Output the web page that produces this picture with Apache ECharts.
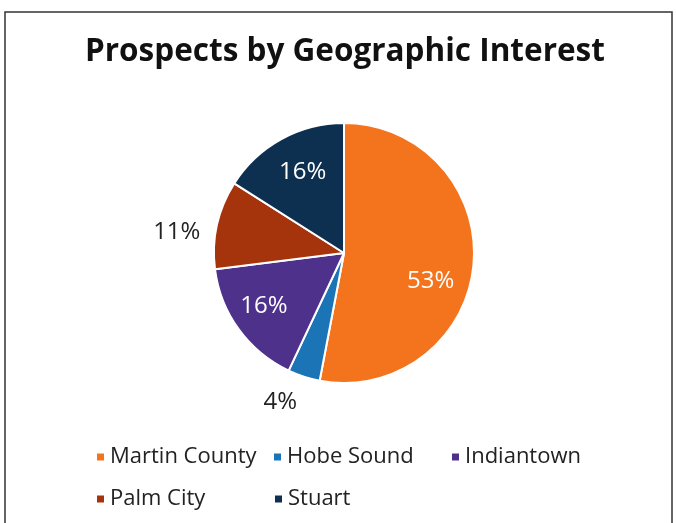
<!DOCTYPE html>
<html>
<head>
<meta charset="utf-8">
<script src="https://cdn.jsdelivr.net/npm/echarts@6/dist/echarts.min.js"></script>
<style>
  html, body { margin: 0; padding: 0; background: #fff; }
  #chart { width: 676px; height: 523px; }
</style>
</head>
<body>
<div id="chart"></div>
<script>
  const categories = ['Martin County', 'Hobe Sound', 'Indiantown', 'Palm City', 'Stuart']
  const shares = [53, 4, 16, 11, 16]
  const colors = ['#f4731d', '#1b74b5', '#4e318b', '#a5340d', '#0e3050']
  // which slices carry their label inside the pie
  const insideLabel = [true, false, true, false, true]
  // small nudges so the labels sit where Excel put them
  const labelNudge = [[-7, 19], [2, 14], [-4, -2], [0, 10], [4, 2]]

  const font = '"Open Sans", "Noto Sans", sans-serif'
  const center = [344, 253]
  const R = 130

  const chart = echarts.init(document.getElementById('chart'))

  const mainData = categories.map((name, i) => ({
    name: name,
    value: shares[i],
    itemStyle: {color: colors[i]},
    label: {show: !insideLabel[i]}
  }))
  const overlayData = categories.map((name, i) => ({
    name: name,
    value: shares[i],
    label: {show: insideLabel[i]}
  }))

  const nudge = function (params) {
    const n = labelNudge[params.dataIndex]
    return {dx: n[0], dy: n[1]}
  }

  // legend laid out in two rows, three columns like the original
  const legendPos = [[90, 441], [267, 441], [445, 441], [90, 483], [268, 483]]
  const legends = categories.map((name, i) => ({
    data: [name],
    left: legendPos[i][0],
    top: legendPos[i][1],
    icon: 'rect',
    itemWidth: 9,
    itemHeight: 9,
    textStyle: {fontFamily: font, fontSize: 22, color: '#222'},
    selectedMode: false
  }))

  chart.setOption({
    animation: false,
    backgroundColor: '#fff',
    color: colors,
    title: {
      text: 'Prospects by Geographic Interest',
      left: 80,
      top: 31,
      textStyle: {fontFamily: font, fontSize: 31.5, fontWeight: 'bold', color: '#111'}
    },
    legend: legends,
    graphic: [{
      type: 'rect',
      shape: {x: 5, y: 12, width: 667, height: 530},
      style: {fill: null, stroke: '#333', lineWidth: 1.5},
      silent: true
    }],
    series: [{
      name: 'main',
      type: 'pie',
      center: center,
      radius: [0, R],
      startAngle: 90,
      clockwise: true,
      itemStyle: {borderColor: '#fff', borderWidth: 2},
      label: {
        position: 'outside',
        formatter: '{d}%',
        fontFamily: font,
        fontSize: 24,
        color: '#222'
      },
      labelLine: {show: false, length: 12, length2: 0},
      labelLayout: nudge,
      data: mainData
    }, {
      name: 'labels',
      type: 'pie',
      center: center,
      radius: [R * 0.4, R],
      startAngle: 90,
      clockwise: true,
      silent: true,
      itemStyle: {color: 'rgba(0,0,0,0)'},
      label: {
        position: 'inside',
        formatter: '{d}%',
        fontFamily: font,
        fontSize: 24,
        color: '#fff'
      },
      labelLine: {show: false},
      labelLayout: nudge,
      data: overlayData
    }]
  })
</script>
</body>
</html>
